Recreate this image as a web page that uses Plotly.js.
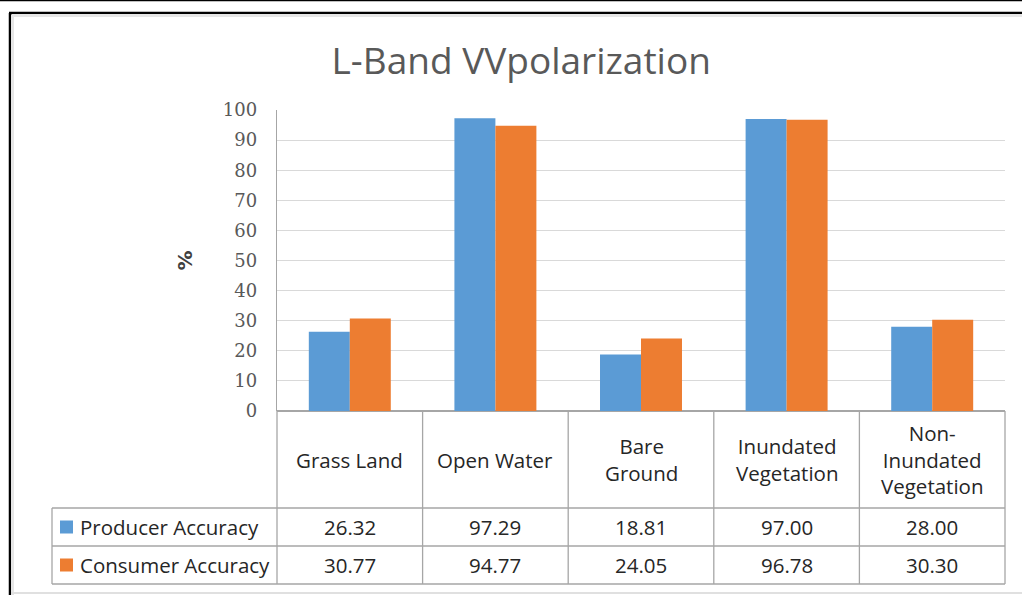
<!DOCTYPE html>
<html>
<head>
<meta charset="utf-8">
<script src="https://cdn.plot.ly/plotly-3.0.1.min.js"></script>
<style>html,body{margin:0;padding:0;background:#fff;}#chart{width:1022px;height:595px;}</style>
</head>
<body>
<div id="chart"></div>
<script>
var categories = ["Grass Land", "Open Water", "Bare Ground", "Inundated Vegetation", "Non-Inundated Vegetation"];
var headerLabels = ["Grass Land", "Open Water", "Bare<br>Ground", "Inundated<br>Vegetation", "Non-<br>Inundated<br>Vegetation"];
var seriesNames = ["Producer Accuracy", "Consumer Accuracy"];
var producer = [26.32, 97.29, 18.81, 97.00, 28.00];
var consumer = [30.77, 94.77, 24.05, 96.78, 30.30];
var colors = ["#5B9BD5", "#ED7D31"];

var W = 1022, H = 595;
var mL = 277, mR = 17, mT = 110, mB = 184;
var plotW = W - mL - mR, plotH = H - mT - mB;
function px2x(px) { return (px - mL) / plotW; }
function py2y(py) { return (H - mB - py) / plotH; }
var n = categories.length;
function colCenter(i) { return (i + 0.5) / n; }
function colEdge(i) { return i / n; }

var traces = [
  {type: "bar", name: seriesNames[0], x: categories, y: producer, marker: {color: colors[0]}, hoverinfo: "x+y"},
  {type: "bar", name: seriesNames[1], x: categories, y: consumer, marker: {color: colors[1]}, hoverinfo: "x+y"}
];

var border = "#A6A6A6";
var tableFont = {family: "'Open Sans', Lato, sans-serif", size: 20.5, color: "#262626"};
var yHeadBot = py2y(508), yRow1Bot = py2y(546), yRow2Bot = py2y(584);
var xLegL = px2x(52);

var shapes = [];
var annotations = [];
for (var i = 0; i <= n; i++) {
  shapes.push({type: "line", xref: "paper", yref: "paper", x0: colEdge(i), x1: colEdge(i), y0: 0, y1: yRow2Bot, line: {color: border, width: 1.3}});
}
shapes.push({type: "line", xref: "paper", yref: "paper", x0: xLegL, x1: 1, y0: yHeadBot, y1: yHeadBot, line: {color: border, width: 1.3}});
shapes.push({type: "line", xref: "paper", yref: "paper", x0: xLegL, x1: 1, y0: yRow1Bot, y1: yRow1Bot, line: {color: border, width: 1.3}});
shapes.push({type: "line", xref: "paper", yref: "paper", x0: xLegL, x1: 1, y0: yRow2Bot, y1: yRow2Bot, line: {color: border, width: 1.3}});
shapes.push({type: "line", xref: "paper", yref: "paper", x0: xLegL, x1: xLegL, y0: yHeadBot, y1: yRow2Bot, line: {color: border, width: 1.3}});

for (var i = 0; i < n; i++) {
  annotations.push({xref: "paper", yref: "paper", x: colCenter(i), y: (0 + yHeadBot) / 2, text: headerLabels[i], showarrow: false, font: tableFont, xanchor: "center", yanchor: "middle", align: "center"});
}
var rows = [producer, consumer];
var rowMid = [(yHeadBot + yRow1Bot) / 2, (yRow1Bot + yRow2Bot) / 2];
for (var r = 0; r < rows.length; r++) {
  for (var i = 0; i < n; i++) {
    annotations.push({xref: "paper", yref: "paper", x: colCenter(i), y: rowMid[r], text: rows[r][i].toFixed(2), showarrow: false, font: tableFont, xanchor: "center", yanchor: "middle"});
  }
  var keyY = rowMid[r];
  var keyH = 13 / plotH, keyW = 13 / plotW;
  shapes.push({type: "rect", xref: "paper", yref: "paper", x0: px2x(60), x1: px2x(60) + keyW, y0: keyY - keyH / 2, y1: keyY + keyH / 2, fillcolor: colors[r], line: {width: 0}});
  annotations.push({xref: "paper", yref: "paper", x: px2x(78), y: keyY, text: seriesNames[r], showarrow: false, font: tableFont, xanchor: "left", yanchor: "middle"});
}

shapes.push({type: "line", xref: "paper", yref: "paper", x0: px2x(0), x1: px2x(W), y0: py2y(0.5), y1: py2y(0.5), line: {color: "#000", width: 1.5}});
shapes.push({type: "line", xref: "paper", yref: "paper", x0: px2x(9), x1: px2x(W), y0: py2y(13), y1: py2y(13), line: {color: "#000", width: 2.5}});
shapes.push({type: "line", xref: "paper", yref: "paper", x0: px2x(10), x1: px2x(10), y0: py2y(13), y1: py2y(H), line: {color: "#000", width: 2.5}});
shapes.push({type: "line", xref: "paper", yref: "paper", x0: px2x(12), x1: px2x(W), y0: py2y(15.5), y1: py2y(15.5), line: {color: "#E6E6E6", width: 3}});
shapes.push({type: "line", xref: "paper", yref: "paper", x0: px2x(12.5), x1: px2x(12.5), y0: py2y(15), y1: py2y(H), line: {color: "#E6E6E6", width: 3}});
shapes.push({type: "line", xref: "paper", yref: "paper", x0: px2x(11), x1: px2x(W), y0: py2y(593), y1: py2y(593), line: {color: "#E0E0E0", width: 2}});

var layout = {
  width: W, height: H,
  margin: {l: mL, r: mR, t: mT, b: mB, pad: 0},
  paper_bgcolor: "#fff", plot_bgcolor: "#fff",
  showlegend: false,
  barmode: "group", bargap: 0.437, bargroupgap: 0,
  title: {text: "L-Band VVpolarization", x: 0.51, xanchor: "center", y: 1 - 61 / H, yanchor: "middle",
          font: {family: "'Open Sans', Lato, sans-serif", size: 37, color: "#595959"}},
  xaxis: {type: "category", showticklabels: false, ticks: "", showgrid: false, zeroline: false,
          showline: false, range: [-0.5, n - 0.5], fixedrange: true},
  yaxis: {range: [0, 100], dtick: 10, tick0: 0, showgrid: true, gridcolor: "#D9D9D9", gridwidth: 1,
          zeroline: true, zerolinecolor: "#A6A6A6", zerolinewidth: 1.3,
          showline: true, linecolor: "#A6A6A6", linewidth: 1.3, ticks: "", ticklen: 0,
          tickfont: {family: "'DejaVu Serif', serif", size: 18, color: "#595959"}, ticklabelstandoff: 15,
          title: {text: "%", standoff: 24, font: {family: "'DejaVu Sans', sans-serif", size: 20, color: "#404040", weight: "bold"}},
          fixedrange: true},
  shapes: shapes,
  annotations: annotations
};

Plotly.newPlot("chart", traces, layout, {displayModeBar: false, staticPlot: true});
</script>
</body>
</html>
